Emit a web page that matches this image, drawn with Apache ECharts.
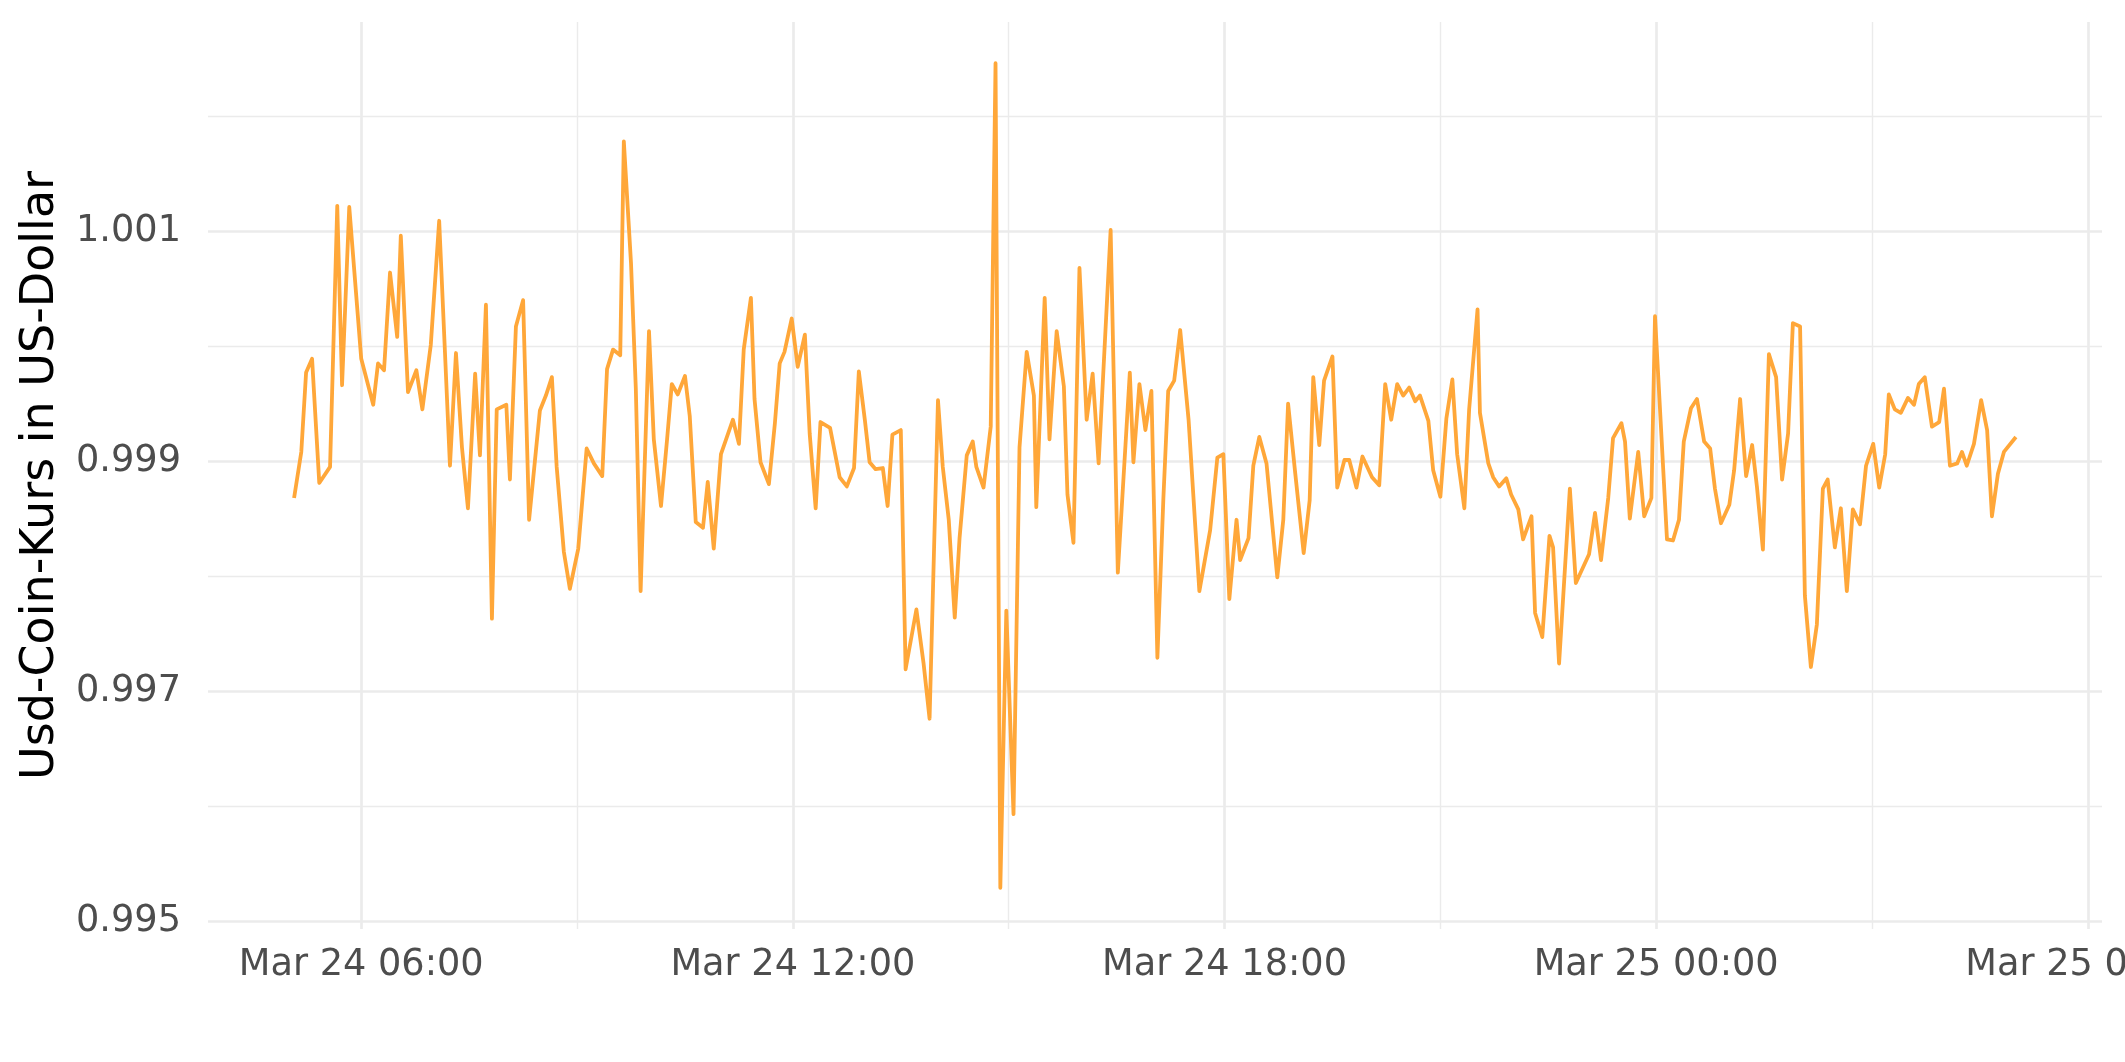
<!DOCTYPE html>
<html>
<head>
<meta charset="utf-8">
<script src="https://cdn.jsdelivr.net/npm/echarts@6/dist/echarts.min.js"></script>
<style>
html,body{margin:0;padding:0;background:#fff;}
#chart{width:2125px;height:1062px;}
</style>
</head>
<body>
<div id="chart"></div>
<script>
// Timestamps (MM-DD HH:mm) and USD Coin price
const times = [
'03-24 05:04','03-24 05:10','03-24 05:14','03-24 05:19','03-24 05:25','03-24 05:34','03-24 05:40','03-24 05:44','03-24 05:50','03-24 06:00',
'03-24 06:10','03-24 06:14','03-24 06:19','03-24 06:24','03-24 06:30','03-24 06:33','03-24 06:39','03-24 06:46','03-24 06:51','03-24 06:58',
'03-24 07:05','03-24 07:14','03-24 07:19','03-24 07:24','03-24 07:29','03-24 07:35','03-24 07:39','03-24 07:44','03-24 07:49','03-24 07:53',
'03-24 08:01','03-24 08:04','03-24 08:09','03-24 08:15','03-24 08:20','03-24 08:29','03-24 08:34','03-24 08:39','03-24 08:43','03-24 08:49',
'03-24 08:54','03-24 09:01','03-24 09:08','03-24 09:14','03-24 09:21','03-24 09:25','03-24 09:30','03-24 09:36','03-24 09:39','03-24 09:45',
'03-24 09:49','03-24 09:53','03-24 10:00','03-24 10:04','03-24 10:10','03-24 10:15','03-24 10:19','03-24 10:24','03-24 10:30','03-24 10:34',
'03-24 10:39','03-24 10:45','03-24 10:49','03-24 10:54','03-24 11:00','03-24 11:04','03-24 11:10','03-24 11:15','03-24 11:19','03-24 11:25',
'03-24 11:28','03-24 11:33','03-24 11:40','03-24 11:45','03-24 11:49','03-24 11:53','03-24 11:59','03-24 12:04','03-24 12:10','03-24 12:14',
'03-24 12:19','03-24 12:23','03-24 12:31','03-24 12:39','03-24 12:45','03-24 12:51','03-24 12:55','03-24 13:00','03-24 13:04','03-24 13:09',
'03-24 13:15','03-24 13:19','03-24 13:23','03-24 13:30','03-24 13:34','03-24 13:43','03-24 13:49','03-24 13:54','03-24 14:01','03-24 14:05',
'03-24 14:10','03-24 14:15','03-24 14:19','03-24 14:25','03-24 14:30','03-24 14:33','03-24 14:39','03-24 14:45','03-24 14:49','03-24 14:53',
'03-24 14:58','03-24 15:04','03-24 15:09','03-24 15:15','03-24 15:21','03-24 15:23','03-24 15:30','03-24 15:34','03-24 15:40','03-24 15:46',
'03-24 15:49','03-24 15:54','03-24 15:59','03-24 16:05','03-24 16:10','03-24 16:15','03-24 16:25','03-24 16:31','03-24 16:41','03-24 16:44',
'03-24 16:49','03-24 16:54','03-24 16:59','03-24 17:04','03-24 17:09','03-24 17:13','03-24 17:18','03-24 17:23','03-24 17:30','03-24 17:39',
'03-24 17:48','03-24 17:54','03-24 17:59','03-24 18:04','03-24 18:10','03-24 18:13','03-24 18:20','03-24 18:24','03-24 18:29','03-24 18:35',
'03-24 18:44','03-24 18:49','03-24 18:53','03-24 18:59','03-24 19:06','03-24 19:11','03-24 19:14','03-24 19:19','03-24 19:23','03-24 19:30',
'03-24 19:34','03-24 19:40','03-24 19:44','03-24 19:50','03-24 19:55','03-24 20:03','03-24 20:09','03-24 20:14','03-24 20:19','03-24 20:24',
'03-24 20:29','03-24 20:34','03-24 20:39','03-24 20:43','03-24 20:50','03-24 20:54','03-24 21:00','03-24 21:05','03-24 21:10','03-24 21:14',
'03-24 21:20','03-24 21:24','03-24 21:31','03-24 21:33','03-24 21:40','03-24 21:44','03-24 21:49','03-24 21:55','03-24 21:59','03-24 22:05',
'03-24 22:09','03-24 22:16','03-24 22:19','03-24 22:25','03-24 22:31','03-24 22:34','03-24 22:39','03-24 22:48','03-24 22:53','03-24 23:04',
'03-24 23:09','03-24 23:14','03-24 23:20','03-24 23:24','03-24 23:31','03-24 23:34','03-24 23:38','03-24 23:45','03-24 23:50','03-24 23:56',
'03-24 23:59','03-25 00:09','03-25 00:14','03-25 00:19','03-25 00:23','03-25 00:29','03-25 00:34','03-25 00:40','03-25 00:45','03-25 00:49',
'03-25 00:54','03-25 01:01','03-25 01:05','03-25 01:10','03-25 01:15','03-25 01:20','03-25 01:24','03-25 01:29','03-25 01:34','03-25 01:40',
'03-25 01:45','03-25 01:50','03-25 01:54','03-25 02:00','03-25 02:04','03-25 02:09','03-25 02:14','03-25 02:19','03-25 02:23','03-25 02:29',
'03-25 02:34','03-25 02:39','03-25 02:44','03-25 02:50','03-25 02:55','03-25 03:01','03-25 03:06','03-25 03:11','03-25 03:14','03-25 03:19',
'03-25 03:24','03-25 03:30','03-25 03:35','03-25 03:39','03-25 03:44','03-25 03:50','03-25 03:56','03-25 04:00','03-25 04:05','03-25 04:11',
'03-25 04:15','03-25 04:19','03-25 04:25','03-25 04:31','03-25 04:36','03-25 04:40','03-25 04:45','03-25 04:50','03-25 05:00'
];
const prices = [
0.99868,0.99908,0.99977,0.99989,0.99881,0.99895,1.00122,0.99966,1.00121,0.99989,
0.99949,0.99985,0.99979,1.00064,1.00008,1.00096,0.99960,0.99979,0.99945,1.00001,
1.00109,0.99896,0.99994,0.99912,0.99859,0.99976,0.99905,1.00036,0.99763,0.99945,
0.99949,0.99884,1.00017,1.00040,0.99849,0.99944,0.99957,0.99973,0.99895,0.99821,
0.99789,0.99824,0.99911,0.99898,0.99887,0.99980,0.99997,0.99992,1.00178,1.00072,
0.99963,0.99787,1.00013,0.99919,0.99861,0.99918,0.99967,0.99958,0.99974,0.99939,
0.99847,0.99842,0.99882,0.99824,0.99906,0.99918,0.99936,0.99915,0.99997,1.00042,
0.99954,0.99899,0.99880,0.99933,0.99985,0.99995,1.00024,0.99982,1.00010,0.99924,
0.99859,0.99934,0.99929,0.99886,0.99878,0.99894,0.99978,0.99936,0.99899,0.99893,
0.99894,0.99861,0.99923,0.99927,0.99719,0.99771,0.99724,0.99676,0.99953,0.99895,
0.99849,0.99764,0.99833,0.99905,0.99917,0.99895,0.99877,0.99930,1.00246,0.99529,
0.99770,0.99593,0.99912,0.99995,0.99957,0.99860,1.00042,0.99919,1.00013,0.99965,
0.99871,0.99829,1.00068,0.99936,0.99976,0.99898,1.00101,0.99803,0.99977,0.99899,
0.99967,0.99927,0.99961,0.99729,0.99868,0.99961,0.99970,1.00014,0.99936,0.99787,
0.99840,0.99903,0.99906,0.99780,0.99849,0.99814,0.99833,0.99896,0.99921,0.99898,
0.99799,0.99849,0.99950,0.99889,0.99820,0.99866,0.99973,0.99914,0.99970,0.99991,
0.99877,0.99901,0.99901,0.99877,0.99904,0.99886,0.99879,0.99967,0.99936,0.99967,
0.99957,0.99964,0.99952,0.99957,0.99935,0.99892,0.99869,0.99937,0.99971,0.99906,
0.99859,0.99945,1.00032,0.99942,0.99898,0.99886,0.99878,0.99885,0.99871,0.99858,
0.99832,0.99852,0.99768,0.99747,0.99835,0.99825,0.99724,0.99876,0.99794,0.99819,
0.99855,0.99814,0.99868,0.99920,0.99933,0.99917,0.99850,0.99908,0.99852,0.99868,
1.00026,0.99832,0.99831,0.99849,0.99917,0.99946,0.99954,0.99917,0.99911,0.99876,
0.99846,0.99862,0.99892,0.99954,0.99887,0.99914,0.99878,0.99823,0.99993,0.99973,
0.99884,0.99924,1.00020,1.00017,0.99783,0.99721,0.99758,0.99876,0.99884,0.99825,
0.99859,0.99787,0.99858,0.99845,0.99896,0.99915,0.99877,0.99906,0.99958,0.99945,
0.99942,0.99955,0.99949,0.99967,0.99973,0.99930,0.99934,0.99963,0.99896,0.99898,
0.99908,0.99896,0.99915,0.99953,0.99927,0.99852,0.99889,0.99908,0.99921
];
// Axis ticks
const xMajorTicks = ['03-24 06:00','03-24 12:00','03-24 18:00','03-25 00:00','03-25 06:00'];
const xMinorTicks = ['03-24 09:00','03-24 15:00','03-24 21:00','03-25 03:00'];
const yMajorTicks = [0.995, 0.997, 0.999, 1.001];
const yMinorTicks = [0.996, 0.998, 1.000, 1.002];
const yTitle = 'Usd-Coin-Kurs in US-Dollar';

// minutes since Mar 24 00:00
function toMin(s){
  const d = parseInt(s.slice(3,5),10);
  const h = parseInt(s.slice(6,8),10);
  const m = parseInt(s.slice(9,11),10);
  return (d-24)*1440 + h*60 + m;
}
function pad(n){return (n<10?'0':'')+n;}
function fmtX(v){
  const mm = Math.round(v);
  const day = 24 + Math.floor(mm/1440);
  const r = mm - (day-24)*1440;
  return 'Mar ' + day + ' ' + pad(Math.floor(r/60)) + ':' + pad(r%60);
}

const data = times.map((t,i)=>[toMin(t), prices[i]]);
const xs = data.map(d=>d[0]);
const xLo = Math.min(...xs), xHi = Math.max(...xs);
const yLo = Math.min(...prices), yHi = Math.max(...prices);
const xMin = xLo - 0.05*(xHi-xLo), xMax = xHi + 0.05*(xHi-xLo);
const yMin = yLo - 0.05*(yHi-yLo), yMax = yHi + 0.05*(yHi-yLo);

const GRID = '#EBEBEB';
const gridLines = []
  .concat(xMinorTicks.map(t=>({xAxis: toMin(t), lineStyle:{width:1.4}})))
  .concat(yMinorTicks.map(v=>({yAxis: v, lineStyle:{width:1.4}})))
  .concat(xMajorTicks.map(t=>({xAxis: toMin(t), lineStyle:{width:2.7}})))
  .concat(yMajorTicks.map(v=>({yAxis: v, lineStyle:{width:2.7}})));

const chart = echarts.init(document.getElementById('chart'), null, {renderer:'canvas'});
chart.setOption({
  animation: false,
  backgroundColor: '#ffffff',
  textStyle: {fontFamily: 'DejaVu Sans'},
  grid: {left: 208, right: 23, top: 22, bottom: 133, containLabel: false, outerBoundsMode: 'none'},
  xAxis: {
    type: 'value', min: xMin, max: xMax,
    axisLine: {show:false}, axisTick: {show:false}, splitLine: {show:false},
    axisLabel: {
      customValues: xMajorTicks.map(toMin),
      formatter: fmtX, color: '#4D4D4D', fontSize: 36.7, margin: 18,
      fontFamily: 'DejaVu Sans', hideOverlap: false
    }
  },
  yAxis: {
    type: 'value', min: yMin, max: yMax,
    axisLine: {show:false}, axisTick: {show:false}, splitLine: {show:false},
    axisLabel: {
      customValues: yMajorTicks,
      formatter: v => v.toFixed(3), color: '#4D4D4D', fontSize: 36.7, margin: 27,
      fontFamily: 'DejaVu Sans'
    },
    name: yTitle, nameLocation: 'middle', nameRotate: 90, nameGap: 144,
    nameTextStyle: {color: '#000000', fontSize: 46, fontFamily: 'DejaVu Sans'}
  },
  series: [{
    type: 'line', data: data, z: 10, showSymbol: false, symbol: 'none',
    lineStyle: {color: '#FFA739', width: 3.8, join: 'round', cap: 'butt'},
    markLine: {
      z: 1, silent: true, symbol: ['none','none'], animation: false,
      precision: 8,
      label: {show:false},
      lineStyle: {color: GRID, type: 'solid'},
      emphasis: {disabled: true},
      data: gridLines
    }
  }]
});
</script>
</body>
</html>
